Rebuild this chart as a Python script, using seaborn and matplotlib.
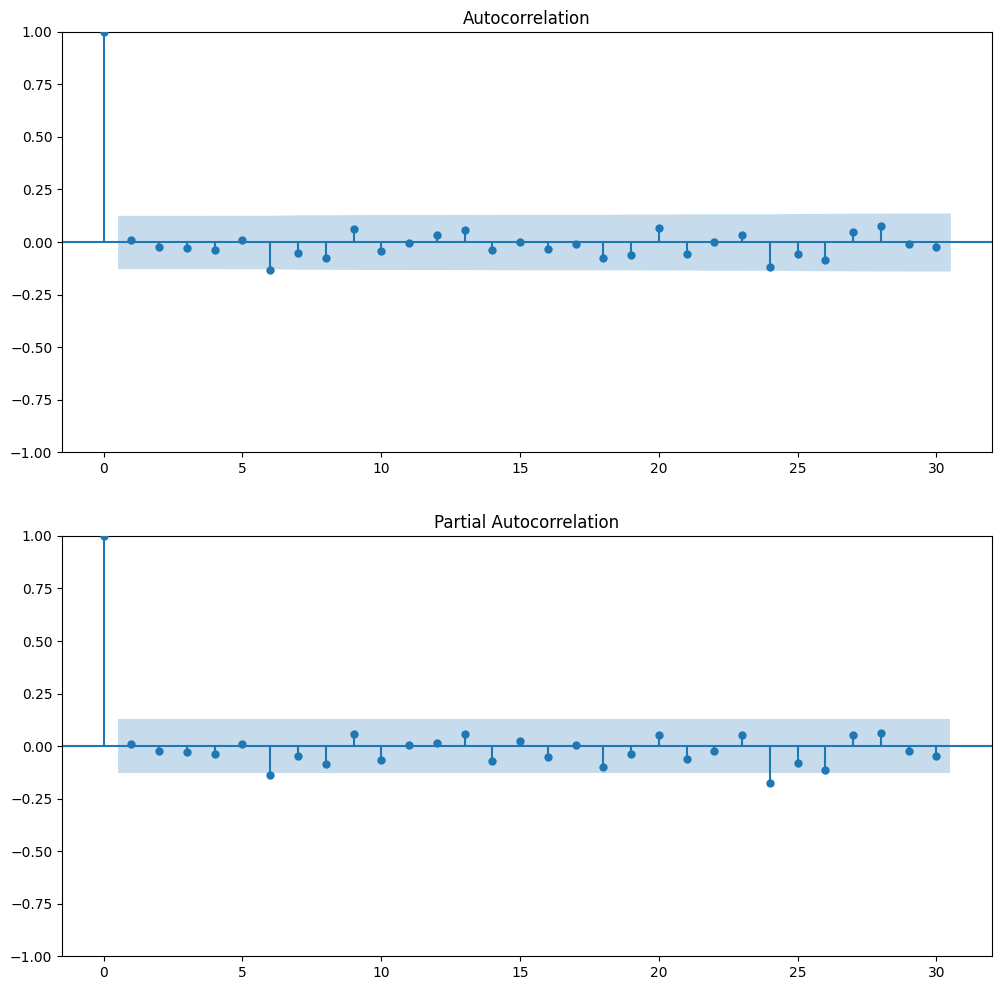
import numpy as np
import pandas as pd
import seaborn as sns
import matplotlib
matplotlib.use("Agg")
import matplotlib.pyplot as plt

# values (lag 0 .. 30)
lags = list(range(0, 31))
acf_vals = [1.0, 0.011, -0.022, -0.027, -0.037, 0.011, -0.132, -0.051, -0.075, 0.063,
            -0.044, -0.003, 0.035, 0.059, -0.037, 0.002, -0.032, -0.011, -0.075, -0.063,
            0.065, -0.056, 0.002, 0.035, -0.118, -0.056, -0.085, 0.046, 0.075, -0.011,
            -0.022]
pacf_vals = [1.0, 0.011, -0.022, -0.027, -0.038, 0.011, -0.137, -0.046, -0.084, 0.059,
             -0.065, 0.003, 0.016, 0.059, -0.070, 0.025, -0.051, 0.003, -0.098, -0.037,
             0.054, -0.060, -0.022, 0.054, -0.175, -0.079, -0.113, 0.054, 0.064, -0.022,
             -0.046]
nobs = 238
titles = ["Autocorrelation", "Partial Autocorrelation"]

acf_arr = np.array(acf_vals)
# confidence band half-widths (Bartlett for ACF, constant for PACF)
acf_band = 1.96 * np.sqrt((1 + 2 * np.concatenate([[0], np.cumsum(acf_arr[1:-1] ** 2)])) / nobs)
pacf_band = np.full(len(lags) - 1, 1.96 / np.sqrt(nobs))

fig = plt.figure(figsize=(10.02, 9.9), dpi=100)
ax1 = fig.add_axes([0.0619, 0.5434, 0.9281, 0.4243])
ax2 = fig.add_axes([0.0619, 0.0343, 0.9281, 0.4243])

for ax, vals, band, title in [(ax1, acf_vals, acf_band, titles[0]),
                              (ax2, pacf_vals, pacf_band, titles[1])]:
    df = pd.DataFrame({"lag": lags, "value": vals})
    ax.vlines(df["lag"], 0, df["value"], color="C0", linewidth=1.5)
    sns.scatterplot(data=df, x="lag", y="value", ax=ax, color="C0", s=36,
                    linewidth=0, zorder=3)
    ax.axhline(0, color="C0", linewidth=1.5)
    bx = np.array(lags[1:], dtype=float)
    bx[0] -= 0.5
    bx[-1] += 0.5
    ax.fill_between(bx, -band, band, color="C0", alpha=0.25, linewidth=0)
    ax.set_xlim(-1.5, 32.0)
    ax.set_ylim(-1, 1)
    ax.set_xlabel("")
    ax.set_ylabel("")
    ax.set_title(title)

fig.savefig("out.png", dpi=100)
